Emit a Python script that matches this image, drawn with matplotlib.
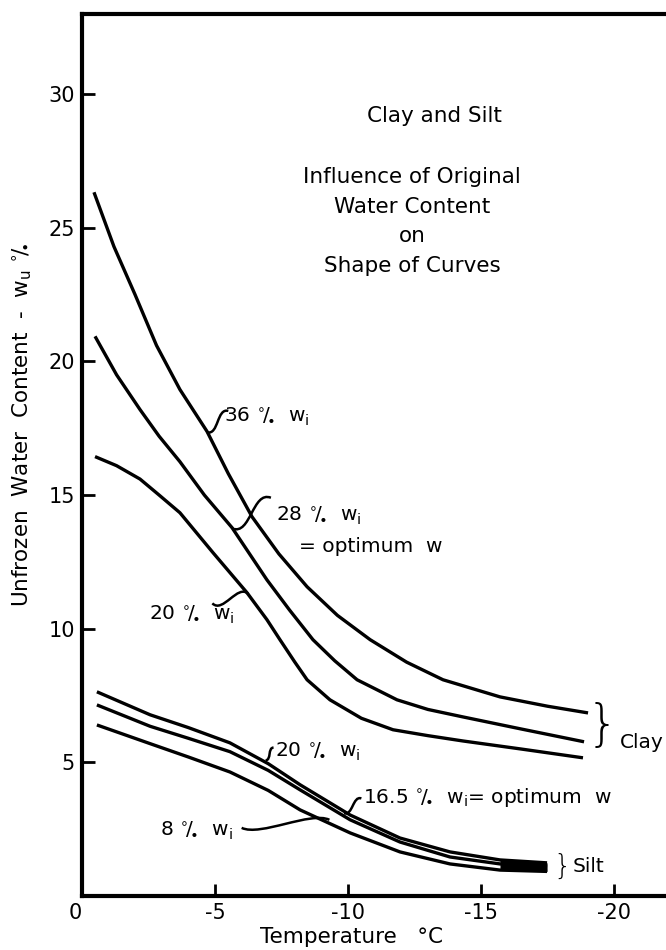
import matplotlib
matplotlib.use("Agg")
import matplotlib.pyplot as plt
from matplotlib.path import Path
from matplotlib.patches import PathPatch
import numpy as np

plt.rcParams['font.family'] = ['DejaVu Sans']

# ---- data (temperature in deg C, unfrozen water content %) ----
clay36_T = [-0.45, -1.2, -1.99, -2.8, -3.68, -4.70, -5.5, -6.39, -7.4, -8.46, -9.6, -10.83, -12.2, -13.57, -15.71, -17.5, -19.02]
clay36_w = [26.33, 24.3, 22.51, 20.6, 18.95, 17.38, 15.8, 14.19, 12.8, 11.57, 10.5, 9.59, 8.75, 8.09, 7.45, 7.1, 6.85]

clay28_T = [-0.49, -1.3, -2.18, -2.9, -3.68, -4.6, -5.64, -6.95, -7.8, -8.68, -9.5, -10.34, -11.84, -13.0, -14.32, -16.5, -18.87]
clay28_w = [20.94, 19.5, 18.20, 17.2, 16.25, 15.0, 13.78, 11.83, 10.7, 9.59, 8.8, 8.09, 7.34, 6.98, 6.70, 6.25, 5.77]

clay20_T = [-0.49, -1.3, -2.18, -2.9, -3.68, -4.92, -6.20, -6.95, -7.44, -8.0, -8.46, -9.32, -10.5, -11.69, -13.0, -14.32, -16.5, -18.83]
clay20_w = [16.44, 16.1, 15.6, 15.0, 14.34, 12.85, 11.35, 10.34, 9.59, 8.75, 8.09, 7.34, 6.65, 6.22, 6.0, 5.80, 5.5, 5.17]

silt20_T = [-0.56, -2.56, -4.0, -5.56, -7.0, -8.2, -10.08, -11.95, -13.83, -15.71, -17.48]
silt20_w = [7.64, 6.78, 6.3, 5.73, 4.95, 4.16, 3.03, 2.17, 1.65, 1.35, 1.24]

silt165_T = [-0.56, -2.56, -4.0, -5.56, -7.0, -8.2, -10.08, -11.95, -13.83, -15.71, -17.48]
silt165_w = [7.15, 6.35, 5.9, 5.40, 4.7, 3.97, 2.85, 2.02, 1.46, 1.20, 1.09]

silt8_T = [-0.56, -2.56, -4.0, -5.56, -7.0, -8.2, -10.08, -11.95, -13.83, -15.71, -17.48]
silt8_w = [6.40, 5.7, 5.2, 4.64, 3.95, 3.22, 2.36, 1.65, 1.20, 0.97, 0.92]

x_ticks = [0, -5, -10, -15, -20]
x_tick_labels = ['0', '-5', '-10', '-15', '-20']
y_ticks = [5, 10, 15, 20, 25, 30]
y_tick_labels = ['5', '10', '15', '20', '25', '30']

title_lines = ['Clay and Silt', 'Influence of Original', 'Water Content', 'on', 'Shape of Curves']

fig = plt.figure(figsize=(6.66, 9.5), dpi=100)
ax = fig.add_axes([82/666, 54/950, (666-82)/666, (896-14)/950])
ax.set_xlim(0, -21.95)
ax.set_ylim(0, 33.0)

lw = 2.4
for T, w in [(clay36_T, clay36_w), (clay28_T, clay28_w), (clay20_T, clay20_w),
             (silt20_T, silt20_w), (silt165_T, silt165_w), (silt8_T, silt8_w)]:
    ax.plot(T, w, color='black', lw=lw, solid_capstyle='butt', solid_joinstyle='round')

# thick end of the silt band
ax.fill_between(silt20_T[-2:], silt8_w[-2:], silt20_w[-2:], color='black', lw=0)

for s in ['left', 'bottom', 'top']:
    ax.spines[s].set_linewidth(3)
ax.spines['right'].set_visible(False)

ax.set_xticks(x_ticks)
ax.set_xticklabels(x_tick_labels, fontsize=15)
ax.set_yticks(y_ticks)
ax.set_yticklabels(y_tick_labels, fontsize=15)
ax.tick_params(direction='in', length=9, width=2, pad=5)
ax.get_xticklabels()[0].set_horizontalalignment('right')

ax.set_xlabel('Temperature   °C', fontsize=15.5)
ax.xaxis.set_label_coords((352-82)/584, -(937-896)/882)
ax.xaxis.label.set_verticalalignment('center')
ax.set_ylabel(r'Unfrozen  Water  Content  -  w$_\mathrm{u}$ $^{\circ}\!/\!_{\bullet}$', fontsize=15.5)
ax.yaxis.set_label_coords((22-82)/584, (896-425)/882)
ax.yaxis.label.set_verticalalignment('center')

# title block
tx = [-13.25, -12.4, -12.4, -12.4, -12.4]
ty = [29.18, 26.9, 25.77, 24.68, 23.56]
for t, x, y in zip(title_lines, tx, ty):
    ax.text(x, y, t, ha='center', va='center', fontsize=15.5)

pc = r'$^{\circ}\!/\!_{\bullet}$'
fs = 14.5


def squiggle(p0, p1, amp=0.35):
    p0 = np.array(p0, float); p1 = np.array(p1, float)
    d = p1 - p0
    perp = np.array([-d[1], d[0]]) / (np.hypot(*d) + 1e-9)
    L = np.hypot(*d)
    c1 = p0 + d * 0.2 + perp * amp * L
    c2 = p0 + d * 0.8 - perp * amp * L
    path = Path([p0, c1, c2, p1], [Path.MOVETO, Path.CURVE4, Path.CURVE4, Path.CURVE4])
    ax.add_patch(PathPatch(path, fc='none', ec='black', lw=1.8))


def label(x, y, s, p0, p1, amp=0.35):
    ax.text(x, y, s, ha='left', va='center', fontsize=fs)
    squiggle(p0, p1, amp)

label(-5.35, 17.95, '36 ' + pc + r'  w$_\mathrm{i}$', (-4.7, 17.35), (-5.5, 18.15))
label(-7.3, 14.25, '28 ' + pc + r'  w$_\mathrm{i}$', (-5.65, 13.75), (-7.1, 14.9))
ax.text(-8.15, 13.07, '= optimum  w', ha='left', va='center', fontsize=fs)
label(-2.5, 10.55, '20 ' + pc + r'  w$_\mathrm{i}$', (-6.25, 11.3), (-4.9, 10.95))
label(-7.25, 5.42, '20 ' + pc + r'  w$_\mathrm{i}$', (-6.9, 5.08), (-7.2, 5.55))
label(-10.55, 3.67, '16.5 ' + pc + r'  w$_\mathrm{i}$= optimum  w', (-9.85, 3.1), (-10.5, 3.65))
label(-2.93, 2.47, '8 ' + pc + r'  w$_\mathrm{i}$', (-9.3, 2.85), (-6.0, 2.55), amp=0.12)

ax.text(-18.95, 6.35, '}', ha='left', va='center', fontsize=36, fontweight='light')
ax.text(-20.2, 5.73, 'Clay', ha='left', va='center', fontsize=fs)
ax.text(-17.7, 1.1, '}', ha='left', va='center', fontsize=20, fontweight='light')
ax.text(-18.45, 1.12, 'Silt', ha='left', va='center', fontsize=fs)

fig.savefig('out.png', dpi=100)
